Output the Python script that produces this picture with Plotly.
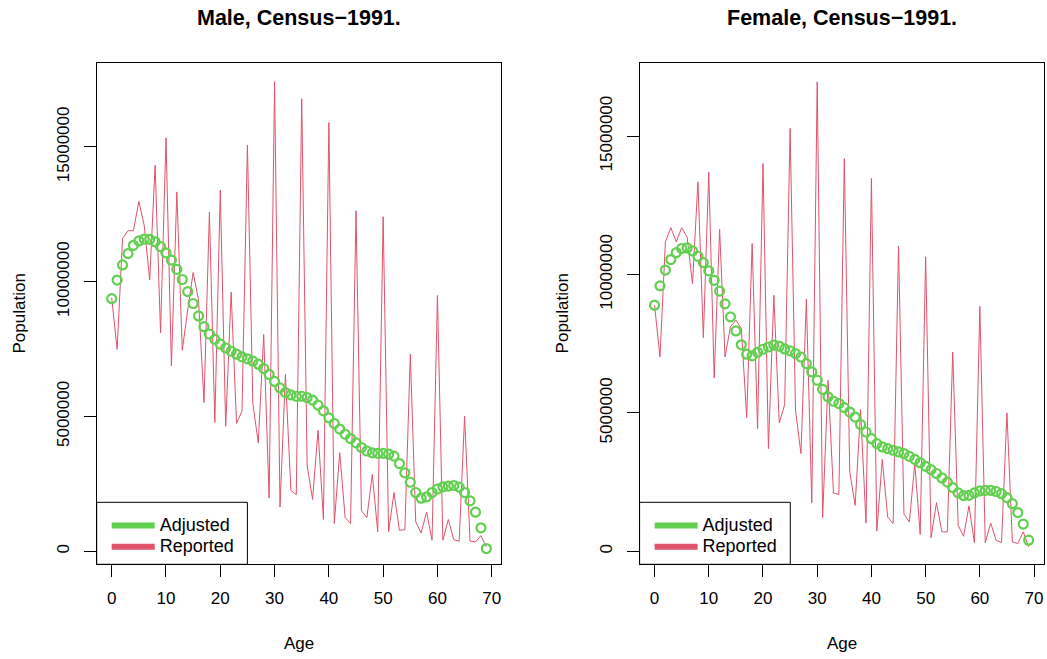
import plotly.graph_objects as go

# ---------------- data ----------------
ages = list(range(70))

male_reported = [
    9.40, 7.49, 11.60, 11.89, 11.89, 12.98, 12.08, 10.06, 14.32, 8.10,
    15.33, 6.87, 13.33, 7.46, 8.95, 10.34, 9.32, 5.52, 12.57, 4.78,
    13.40, 4.64, 9.61, 4.74, 5.20, 15.07, 5.48, 4.02, 8.04, 1.98,
    17.42, 1.64, 6.56, 2.26, 2.10, 16.78, 3.19, 1.92, 4.49, 1.18,
    15.90, 1.03, 3.66, 1.25, 1.03, 12.63, 1.50, 1.25, 2.85, 0.72,
    12.41, 0.72, 2.18, 0.78, 0.80, 7.31, 1.09, 0.68, 1.46, 0.41,
    9.49, 0.41, 1.18, 0.43, 0.37, 5.01, 0.38, 0.34, 0.58, 0.16,
]
male_adjusted = [
    9.37, 10.06, 10.62, 11.04, 11.35, 11.51, 11.58, 11.57, 11.48, 11.30,
    11.07, 10.80, 10.46, 10.08, 9.63, 9.19, 8.73, 8.33, 8.06, 7.86,
    7.68, 7.54, 7.42, 7.31, 7.21, 7.14, 7.05, 6.94, 6.78, 6.56,
    6.30, 6.06, 5.89, 5.80, 5.75, 5.75, 5.70, 5.61, 5.42, 5.21,
    4.95, 4.74, 4.53, 4.34, 4.18, 4.02, 3.85, 3.72, 3.65, 3.63,
    3.63, 3.60, 3.53, 3.25, 2.91, 2.56, 2.18, 1.97, 2.02, 2.18,
    2.31, 2.39, 2.42, 2.44, 2.38, 2.18, 1.87, 1.45, 0.87, 0.10,
]
female_reported = [
    8.89, 7.02, 11.18, 11.69, 11.18, 11.69, 11.36, 9.67, 13.35, 7.72,
    13.70, 6.26, 11.63, 7.02, 8.11, 8.35, 8.05, 4.83, 11.12, 4.43,
    14.01, 3.71, 9.25, 4.64, 5.30, 15.28, 5.10, 3.53, 9.11, 1.75,
    16.96, 1.22, 6.18, 2.11, 2.05, 14.19, 2.87, 1.66, 5.12, 1.02,
    13.47, 0.73, 3.32, 1.24, 1.00, 11.03, 1.34, 1.06, 3.17, 0.61,
    10.64, 0.49, 1.76, 0.70, 0.70, 7.20, 0.94, 0.54, 1.64, 0.31,
    8.85, 0.31, 1.02, 0.40, 0.31, 5.00, 0.34, 0.28, 0.70, 0.16,
]
female_adjusted = [
    8.89, 9.59, 10.16, 10.54, 10.79, 10.94, 10.96, 10.85, 10.66, 10.43,
    10.13, 9.79, 9.40, 8.94, 8.47, 7.96, 7.46, 7.12, 7.06, 7.19,
    7.30, 7.38, 7.45, 7.41, 7.31, 7.24, 7.14, 7.02, 6.78, 6.48,
    6.18, 5.85, 5.58, 5.42, 5.34, 5.19, 5.03, 4.85, 4.58, 4.31,
    4.07, 3.89, 3.77, 3.71, 3.65, 3.59, 3.53, 3.43, 3.32, 3.20,
    3.07, 2.95, 2.81, 2.65, 2.50, 2.30, 2.11, 2.01, 2.02, 2.11,
    2.18, 2.20, 2.20, 2.16, 2.08, 1.94, 1.72, 1.40, 0.98, 0.40,
]
scale = 1_000_000
x_ticks = [0, 10, 20, 30, 40, 50, 60, 70]
y_ticks = [0, 5000000, 10000000, 15000000]
y_tick_labels = ["0", "5000000", "10000000", "15000000"]
titles = ["Male, Census\u22121991.", "Female, Census\u22121991."]
series_names = ["Adjusted", "Reported"]

GREEN = "#61D04F"
RED = "#DF536B"
FONT = "Liberation Sans, Arial, sans-serif"
W, H = 1047, 659

# pixel layout helpers: page pixel -> paper fraction (margins are zero)
def px_x(p):
    return p / W

def px_y(p):
    return (H - p) / H

panels = [
    dict(left=96.7, right=501.3, yr=[-0.483e6, 18.10e6],
         rep=male_reported, adj=male_adjusted),
    dict(left=639.6, right=1043.6, yr=[-0.470e6, 17.63e6],
         rep=female_reported, adj=female_adjusted),
]
TOP, BOTTOM = 63.3, 564.3

fig = go.Figure()
layout = dict(
    width=W, height=H,
    margin=dict(l=0, r=0, t=0, b=0),
    paper_bgcolor="white", plot_bgcolor="white",
    font=dict(family=FONT, size=17, color="black"),
    template="none",
    shapes=[], annotations=[],
)

for i, p in enumerate(panels):
    n = "" if i == 0 else str(i + 1)
    xa, ya = "x" + n, "y" + n
    leg = "legend" + n
    fig.add_trace(go.Scatter(
        x=ages, y=[v * scale for v in p["rep"]], mode="lines",
        line=dict(color=RED, width=1), xaxis=xa, yaxis=ya,
        showlegend=False, hoverinfo="x+y"))
    fig.add_trace(go.Scatter(
        x=ages, y=[v * scale for v in p["adj"]], mode="markers",
        marker=dict(symbol="circle-open", size=9, color=GREEN,
                    line=dict(width=2.2, color=GREEN)),
        xaxis=xa, yaxis=ya, showlegend=False, hoverinfo="x+y"))
    # legend entries (R draws them as thick lines)
    for name, col in zip(series_names, [GREEN, RED]):
        fig.add_trace(go.Scatter(
            x=[None], y=[None], mode="lines",
            name='<span style="font-size:18px">' + name + "</span>",
            line=dict(color=col, width=6), xaxis=xa, yaxis=ya,
            legend=leg, showlegend=True))

    dom_x = [px_x(p["left"]), px_x(p["right"])]
    dom_y = [px_y(BOTTOM), px_y(TOP)]
    layout["xaxis" + n] = dict(
        domain=dom_x, range=[-2.76, 71.76], tickvals=x_ticks,
        ticks="outside", ticklen=12, tickwidth=1, tickcolor="black",
        showline=True, linecolor="black", linewidth=1, mirror=True,
        showgrid=False, zeroline=False, automargin=False,
        ticklabelstandoff=6, anchor=ya,
        tickfont=dict(size=17, family=FONT, color="black"))
    layout["yaxis" + n] = dict(
        domain=dom_y, range=p["yr"], tickvals=y_ticks, ticktext=y_tick_labels,
        ticks="outside", ticklen=12, tickwidth=1, tickcolor="black",
        showline=True, linecolor="black", linewidth=1, mirror=True,
        showgrid=False, zeroline=False, automargin=False, tickangle=-90,
        ticklabelstandoff=8, anchor=xa,
        tickfont=dict(size=17, family=FONT, color="black"))
    layout[leg] = dict(
        x=px_x(p["left"] + 10), y=px_y(510), xanchor="left", yanchor="top",
        xref="paper", yref="paper", bgcolor="rgba(0,0,0,0)", borderwidth=0,
        font=dict(size=14, family=FONT, color="black"), itemwidth=43,
        tracegroupgap=0)
    # legend frame
    layout["shapes"].append(dict(
        type="rect", xref="paper", yref="paper",
        x0=dom_x[0], x1=px_x(p["left"] + 150.7), y0=dom_y[0], y1=px_y(502.3),
        line=dict(color="black", width=1), fillcolor="white", layer="below"))
    cx = (dom_x[0] + dom_x[1]) / 2
    # title
    layout["annotations"].append(dict(
        text="<b>" + titles[i] + "</b>", x=cx, y=px_y(18.5), xref="paper",
        yref="paper", showarrow=False, xanchor="center", yanchor="middle",
        font=dict(size=21.5, family=FONT, color="black")))
    # axis titles
    layout["annotations"].append(dict(
        text="Age", x=cx, y=px_y(643), xref="paper", yref="paper",
        showarrow=False, xanchor="center", yanchor="middle",
        font=dict(size=17, family=FONT, color="black")))
    layout["annotations"].append(dict(
        text="Population", x=px_x(p["left"] - 77), y=(dom_y[0] + dom_y[1]) / 2,
        xref="paper", yref="paper", showarrow=False, textangle=-90,
        xanchor="center", yanchor="middle",
        font=dict(size=17, family=FONT, color="black")))

fig.update_layout(**layout)
fig.write_html(
    "out.html",
    config={"displayModeBar": False},
    post_script="document.body.style.margin='0';"
                "document.documentElement.style.overflow='hidden';",
)
